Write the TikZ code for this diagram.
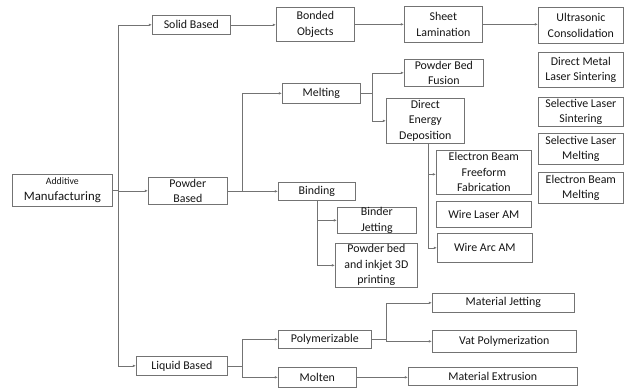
\documentclass[tikz,border=0pt]{standalone}
\usepackage{fontspec}
\setmainfont{Carlito}
\usetikzlibrary{arrows.meta}
\definecolor{LineGray}{RGB}{115,115,115}
\definecolor{TextGray}{RGB}{20,20,20}

\begin{document}
\begin{tikzpicture}[>={Latex[length=3.2pt,width=2.6pt]},x=1pt,y=-1pt,
  box/.style={draw=LineGray,line width=0.7pt,anchor=north west,align=center,inner sep=0pt,
    text=TextGray,font=\fontsize{11.9}{15.5}\selectfont},
  link/.style={draw=LineGray,line width=0.7pt,->}]
\useasboundingbox (0,0) rectangle (625,388);
\node[box,minimum width=100,minimum height=32] (am) at (12,174)
  {{\fontsize{9.8}{13}\selectfont Additive}\\{\fontsize{12.8}{14}\selectfont Manufacturing}};
\node[box,minimum width=78,minimum height=19] (solid) at (152,15) {Solid Based};
\node[box,minimum width=79,minimum height=27] (powder) at (148,177) {Powder\\Based};
\node[box,minimum width=91,minimum height=19] (liquid) at (136,356) {Liquid Based};
\node[box,minimum width=78,minimum height=34] (bonded) at (276,7) {Bonded\\Objects};
\node[box,minimum width=78,minimum height=36] (sheet) at (404,6) {Sheet\\Lamination};
\node[box,minimum width=85,minimum height=36] (ultra) at (538,7) {Ultrasonic\\Consolidation};
\node[box,minimum width=85,minimum height=35] (dmls) at (538,52) {Direct Metal\\Laser Sintering};
\node[box,minimum width=85,minimum height=29] (sls) at (538,97) {Selective Laser\\Sintering};
\node[box,minimum width=85,minimum height=31] (slm) at (538,133) {Selective Laser\\Melting};
\node[box,minimum width=85,minimum height=31] (ebm) at (538,172) {Electron Beam\\Melting};
\node[box,minimum width=78,minimum height=20] (melting) at (282,83) {Melting};
\node[box,minimum width=77,minimum height=18] (binding) at (278,182) {Binding};
\node[box,minimum width=79,minimum height=27] (pbf) at (404,59) {Powder Bed\\Fusion};
\node[box,minimum width=78,minimum height=45] (ded) at (386,98) {Direct\\Energy\\Deposition};
\node[box,minimum width=95,minimum height=44] (ebff) at (436,150) {Electron Beam\\Freeform\\Fabrication};
\node[box,minimum width=95,minimum height=26] (wlam) at (436,201) {Wire Laser AM};
\node[box,minimum width=95,minimum height=29] (waam) at (437,233) {Wire Arc AM};
\node[box,minimum width=79,minimum height=26] (bj) at (337,207) {Binder\\Jetting};
\node[box,minimum width=82,minimum height=44] (pbij) at (335,243) {Powder bed\\and inkjet 3D\\printing};
\node[box,minimum width=93,minimum height=18] (poly) at (278,330) {Polymerizable};
\node[box,minimum width=78,minimum height=20] (molten) at (278,367) {Molten};
\node[box,minimum width=142,minimum height=19] (mj) at (432,293) {Material Jetting};
\node[box,minimum width=144,minimum height=22] (vat) at (432,330) {Vat Polymerization};
\node[box,minimum width=169,minimum height=18] (me) at (408,367) {Material Extrusion};
\draw[link] (am.east) -- ++(6,0) |- (solid.west);
\draw[link] (am.east) -- ++(6,0) |- (powder.west);
\draw[link] (am.east) -- ++(6,0) |- (liquid.west);
\draw[link] (solid.east) -- (solid.east -| bonded.west);
\draw[link] (bonded.east) -- (bonded.east -| sheet.west);
\draw[link] (sheet.east) -- (sheet.east -| ultra.west);
\draw[link] (powder.east) -- ++(15,0) |- (melting.west);
\draw[link] (powder.east) -- ++(15,0) |- (binding.west);
\draw[link] (melting.east) -- ++(12,0) |- (pbf.west);
\draw[link] (melting.east) -- ++(12,0) |- (ded.west);
\draw[link] ([xshift=3pt]ded.south) |- ([yshift=-2pt]ebff.west);
\draw[link] ([xshift=3pt]ded.south) |- (waam.west);
\draw[link] (binding.south) |- (bj.west);
\draw[link] (binding.south) |- (pbij.west);
\draw[link] (liquid.east) -- ++(15,0) |- (poly.west);
\draw[link] (liquid.east) -- ++(15,0) |- (molten.west);
\draw[link] (poly.east) -- ++(15,0) |- (mj.west);
\draw[link] (poly.east) -- ++(15,0) |- (vat.west);
\draw[link] (molten.east) -- (molten.east -| me.west);
\end{tikzpicture}
\end{document}
